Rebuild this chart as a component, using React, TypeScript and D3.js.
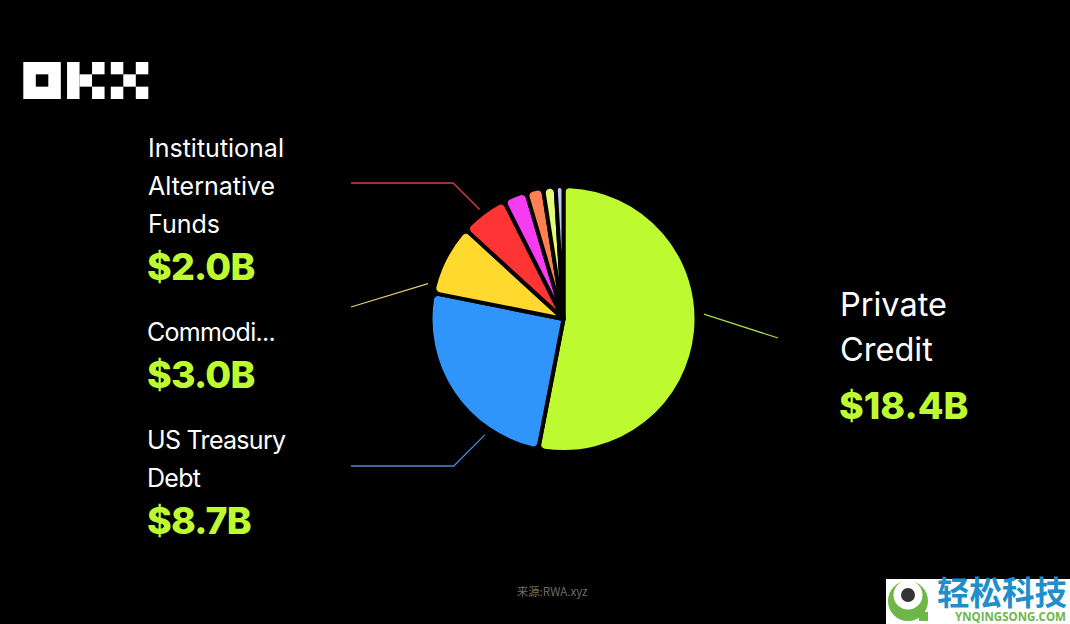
import { useEffect, useRef } from "react";
import * as d3 from "d3";

const categories = ["Private Credit", "US Treasury Debt", "Commodities", "Institutional Alternative Funds", "Other A", "Other B", "Other C", "Other D"];
const values = [18.4, 8.7, 3.0, 2.0, 1.0, 0.72, 0.53, 0.33];
const colors = ["#bdfb30", "#2f95fb", "#ffd92e", "#ff3434", "#f53cf0", "#ff8050", "#e2fb78", "#bcc8f4"];

const leftLabels = [
  { lines: ["Institutional", "Alternative", "Funds"], value: "$2.0B", y: 148, spacing: 0 },
  { lines: ["Commodi..."], value: "$3.0B", y: 332, spacing: -0.7 },
  { lines: ["US Treasury", "Debt"], value: "$8.7B", y: 440, spacing: -0.7 },
];
const rightLabel = { lines: ["Private", "Credit"], value: "$18.4B" };

// logo cells in grid units: x, y, w, h
const logoCells = [
  [0, 0, 3, 3],
  [3.5, 0, 1, 3], [4.5, 1, 1, 1], [5.5, 0, 1, 1], [5.5, 2, 1, 1],
  [7, 0, 1, 1], [7, 2, 1, 1], [8, 1, 1, 1], [9, 0, 1, 1], [9, 2, 1, 1],
];

// which slice each leader belongs to, how far it drifts from the slice middle (deg), and where it ends
const leaders = [
  { slice: 0, drift: -7.5, r: 140.5, end: [778, 338], elbow: false },
  { slice: 1, drift: -22, r: 140, end: [351, 466], elbow: true },
  { slice: 2, drift: -12.3, r: 140, end: [351, 307], elbow: false },
  { slice: 3, drift: -0.3, r: 138, end: [351, 183], elbow: true },
];
const leaderColors = ["#a9d84a", "#4a86d8", "#e2cf78", "#d8403f"];

const App = () => {
  const svgRef = useRef<SVGSVGElement>(null);

  useEffect(() => {
    if (!svgRef.current) return;
    const svg = d3.select(svgRef.current);
    svg.selectAll("*").remove();

    const width = 1070;
    const height = 624;
    const cx = 563.5;
    const cy = 319;
    const radius = 133;
    const labelFont = "Inter, 'Noto Sans', sans-serif";

    svg.append("rect").attr("width", width).attr("height", height).attr("fill", "#000");

    // Logo
    const logoX = d3.scaleLinear().domain([0, 10]).range([23.3, 148.3]);
    const logoY = d3.scaleLinear().domain([0, 3]).range([62, 99]);
    svg.append("g")
      .selectAll("rect")
      .data(logoCells)
      .join("rect")
      .attr("x", (d) => logoX(d[0]))
      .attr("y", (d) => logoY(d[1]))
      .attr("width", (d) => logoX(d[0] + d[2]) - logoX(d[0]))
      .attr("height", (d) => logoY(d[1] + d[3]) - logoY(d[1]))
      .attr("fill", "#fff");
    svg.append("rect")
      .attr("x", logoX(1))
      .attr("y", logoY(1))
      .attr("width", logoX(2) - logoX(1))
      .attr("height", logoY(2) - logoY(1))
      .attr("fill", "#000");

    // Pie
    const pie = d3.pie<number>().sort(null)(values);
    const arc = d3.arc<d3.PieArcDatum<number>>().innerRadius(0).outerRadius(radius).cornerRadius(6);
    const g = svg.append("g").attr("transform", `translate(${cx},${cy})`);
    g.selectAll("path")
      .data(pie)
      .join("path")
      .attr("d", arc)
      .attr("fill", (_, i) => colors[i])
      .attr("stroke", "#000")
      .attr("stroke-width", 4)
      .attr("stroke-linejoin", "round")
      .append("title")
      .text((_, i) => categories[i]);

    // Leader lines
    const line = d3.line();
    svg.append("g")
      .selectAll("path")
      .data(leaders)
      .join("path")
      .attr("fill", "none")
      .attr("stroke", (d) => leaderColors[d.slice])
      .attr("stroke-width", 1.3)
      .attr("d", (d) => {
        const p = pie[d.slice];
        const a = (p.startAngle + p.endAngle) / 2 + (d.drift * Math.PI) / 180;
        const sx = cx + d.r * Math.sin(a);
        const sy = cy - d.r * Math.cos(a);
        const pts: [number, number][] = [[sx, sy]];
        if (d.elbow) pts.push([sx - Math.abs(d.end[1] - sy), d.end[1]]);
        pts.push([d.end[0], d.end[1]]);
        return line(pts);
      });

    // Left labels
    leftLabels.forEach((lab) => {
      const lineH = 38;
      lab.lines.forEach((t, i) => {
        svg.append("text")
          .attr("x", lab.spacing ? 147 : 148)
          .attr("y", lab.y + i * lineH + 9)
          .attr("fill", "#fff")
          .attr("font-family", labelFont)
          .attr("font-size", 25)
          .attr("letter-spacing", lab.spacing)
          .text(t);
      });
      svg.append("text")
        .attr("x", 147)
        .attr("y", lab.y + lab.lines.length * lineH + 18)
        .attr("fill", "#bdfb30")
        .attr("font-family", labelFont)
        .attr("font-size", 37.5)
        .attr("font-weight", 800)
        .attr("letter-spacing", -0.8)
        .text(lab.value);
    });

    // Right label
    rightLabel.lines.forEach((t, i) => {
      svg.append("text")
        .attr("x", 840)
        .attr("y", 316 + i * 45)
        .attr("fill", "#fff")
        .attr("font-family", labelFont)
        .attr("font-size", 32.5)
        .text(t);
    });
    svg.append("text")
      .attr("x", 839)
      .attr("y", 419)
      .attr("fill", "#bdfb30")
      .attr("font-family", labelFont)
      .attr("font-size", 37.5)
      .attr("font-weight", 800)
      .text(rightLabel.value);

    // Source
    svg.append("text")
      .attr("x", 552)
      .attr("y", 596)
      .attr("text-anchor", "middle")
      .attr("fill", "#6e6e6e")
      .attr("font-family", "'Noto Sans CJK SC', sans-serif")
      .attr("font-size", 11.5)
      .text("来源:RWA.xyz");

    // Watermark
    const wm = svg.append("g");
    wm.append("rect").attr("x", 886).attr("y", 579).attr("width", 184).attr("height", 45).attr("fill", "#fff");
    wm.append("circle").attr("cx", 908).attr("cy", 601).attr("r", 20).attr("fill", "#6fb648");
    wm.append("rect").attr("x", 919).attr("y", 612).attr("width", 9).attr("height", 9).attr("fill", "#6fb648");
    wm.append("circle").attr("cx", 908).attr("cy", 595).attr("r", 14.5).attr("fill", "#fff");
    wm.append("circle").attr("cx", 908).attr("cy", 595).attr("r", 7).attr("fill", "#333");
    wm.append("text")
      .attr("x", 937)
      .attr("y", 605)
      .attr("fill", "#1f8ecb")
      .attr("font-family", "'Noto Sans CJK SC', sans-serif")
      .attr("font-weight", 700)
      .attr("font-size", 32.5)
      .text("轻松科技");
    wm.append("text")
      .attr("x", 955)
      .attr("y", 620.5)
      .attr("fill", "#6fb648")
      .attr("font-family", "'Open Sans', sans-serif")
      .attr("font-weight", 700)
      .attr("font-size", 11.5)
      .text("YNQINGSONG.COM");
  }, []);

  return (
    <svg
      ref={svgRef}
      width={1070}
      height={624}
      viewBox="0 0 1070 624"
      style={{ position: "fixed", left: 0, top: 0 }}
    />
  );
};

export default App;
